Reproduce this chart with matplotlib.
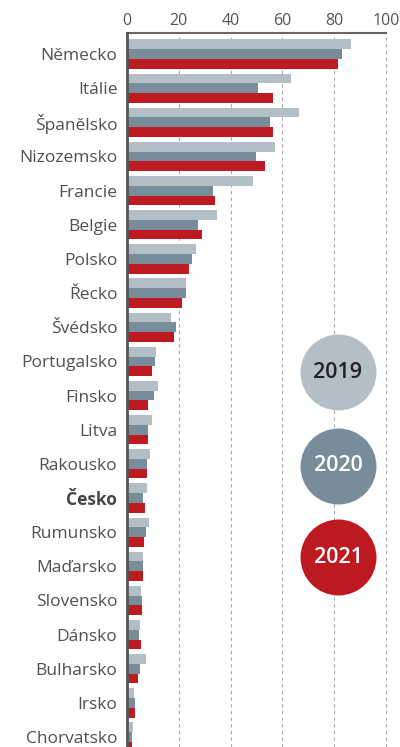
import numpy as np
import matplotlib
matplotlib.use("Agg")
import matplotlib.pyplot as plt

plt.rcParams['font.family'] = ['Open Sans', 'DejaVu Sans']

# data
countries = ["Německo", "Itálie", "Španělsko", "Nizozemsko", "Francie", "Belgie",
             "Polsko", "Řecko", "Švédsko", "Portugalsko", "Finsko", "Litva",
             "Rakousko", "Česko", "Rumunsko", "Maďarsko", "Slovensko", "Dánsko",
             "Bulharsko", "Irsko", "Chorvatsko"]
v2019 = [86.5, 63.3, 66.4, 57.1, 48.6, 34.7, 26.6, 22.8, 17.0, 11.2, 12.0, 9.7,
         8.9, 7.7, 8.5, 6.2, 5.4, 5.0, 7.3, 2.7, 2.3]
v2020 = [83.0, 50.6, 55.2, 49.8, 33.2, 27.4, 25.1, 22.8, 18.9, 10.8, 10.4, 8.1,
         7.7, 6.2, 7.3, 6.2, 5.8, 4.6, 5.0, 3.1, 1.9]
v2021 = [81.5, 56.4, 56.4, 53.3, 34.0, 29.0, 23.9, 21.2, 18.1, 9.7, 8.1, 8.1,
         7.7, 6.9, 6.6, 6.2, 5.8, 5.4, 4.2, 3.1, 1.9]
years = ["2019", "2020", "2021"]
colors = ["#b3bfc6", "#788d99", "#be1a21"]
xticks = [0, 20, 40, 60, 80, 100]

fig = plt.figure(figsize=(4.0, 7.47), dpi=100)
ax = fig.add_axes([0.3175, 0.0, 0.654, 0.9558])

y = np.arange(len(countries))
h = 0.285
for off, vals, c in zip([-h, 0, h], [v2019, v2020, v2021], colors):
    ax.barh(y + off, vals, height=h, color=c, zorder=3)

ax.set_xlim(0, 101)
ax.set_ylim(20.29, -0.615)

ax.set_xticks(xticks)
ax.xaxis.tick_top()
ax.tick_params(axis='x', length=0, pad=3, labelsize=11.5, labelcolor="#555555")
ax.set_yticks(y)
ax.set_yticklabels(countries)
ax.tick_params(axis='y', length=0, pad=7, labelsize=12.5, labelcolor="#505050")
for lab in ax.get_yticklabels():
    if lab.get_text() == "Česko":
        lab.set_fontweight("bold")
        lab.set_color("#444444")

ax.grid(axis='x', linestyle=(0, (3, 3)), color="#aaaaaa", linewidth=0.8, zorder=0)
for s in ["right", "bottom"]:
    ax.spines[s].set_visible(False)
ax.spines["top"].set_color("#666666")
ax.spines["top"].set_linewidth(1.5)
ax.spines["top"].set_bounds(0, 100)
ax.spines["left"].set_color("#555555")
ax.spines["left"].set_linewidth(2)
ax.spines["left"].set_zorder(5)

# legend as circles
leg_y = [0.525, 0.3936, 0.266]
txt_colors = ["#222222", "white", "white"]
for yr, c, yy, tc in zip(years, colors, leg_y, txt_colors):
    ax.scatter([0.8066], [yy], s=2990, color=c, transform=ax.transAxes,
               zorder=6, clip_on=False, linewidths=0)
    ax.text(0.8066, yy, yr, transform=ax.transAxes, ha='center', va='center',
            fontsize=15.5, fontweight='semibold', color=tc, zorder=7)

fig.savefig("out.png", dpi=100)
